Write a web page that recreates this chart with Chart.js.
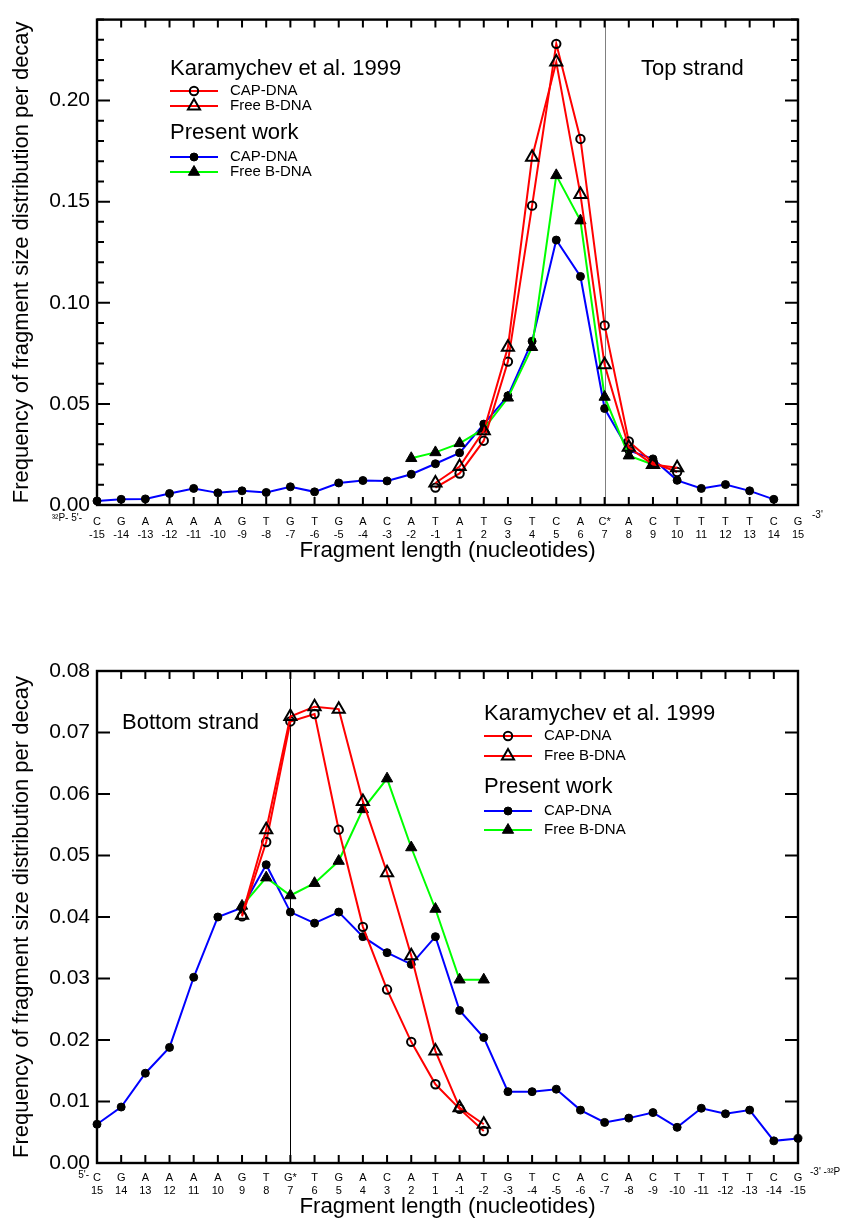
<!DOCTYPE html>
<html>
<head>
<meta charset="utf-8">
<script src="https://cdn.jsdelivr.net/npm/chart.js@4.4.1/dist/chart.umd.min.js"></script>
<style>
  body { margin:0; background:#fff; width:841px; height:1222px; position:relative; overflow:hidden; }
  canvas { position:absolute; left:0; }
  #topChart { top:0; }
  #botChart { top:630px; }
</style>
</head>
<body>
<canvas id="topChart" width="841" height="580"></canvas>
<canvas id="botChart" width="841" height="592"></canvas>
<script>
// ---------- data ----------
const topBases = ['C','G','A','A','A','A','G','T','G','T','G','A','C','A','T',
                  'A','T','G','T','C','A','C*','A','C','T','T','T','T','C','G'];
const topNums  = ['-15','-14','-13','-12','-11','-10','-9','-8','-7','-6','-5','-4','-3','-2','-1',
                  '1','2','3','4','5','6','7','8','9','10','11','12','13','14','15'];
const botBases = ['C','G','A','A','A','A','G','T','G*','T','G','A','C','A','T',
                  'A','T','G','T','C','A','C','A','C','T','T','T','T','C','G'];
const botNums  = ['15','14','13','12','11','10','9','8','7','6','5','4','3','2','1',
                  '-1','-2','-3','-4','-5','-6','-7','-8','-9','-10','-11','-12','-13','-14','-15'];

const topYTicks = [0, 0.05, 0.10, 0.15, 0.20];
const botYTicks = [0, 0.01, 0.02, 0.03, 0.04, 0.05, 0.06, 0.07, 0.08];

// top strand
const topPresentCap  = [0.002,0.0028,0.003,0.0057,0.0082,0.006,0.007,0.0062,0.009,0.0065,0.0109,0.0121,0.0119,0.0152,0.0204,
                        0.0258,0.040,0.054,0.081,0.131,0.113,0.0477,0.027,0.0228,0.0122,0.0082,0.0101,0.007,0.0028,null];
const topPresentFree = [null,null,null,null,null,null,null,null,null,null,null,null,null,0.0231,0.026,
                        0.0305,0.0376,0.053,0.078,0.163,0.1406,0.0534,0.0244,0.020,null,null,null,null,null,null];
const topKaraCap     = [null,null,null,null,null,null,null,null,null,null,null,null,null,null,0.0086,
                        0.0156,0.0318,0.0709,0.148,0.228,0.181,0.0888,0.0314,0.021,0.0163,null,null,null,null,null];
const topKaraFree    = [null,null,null,null,null,null,null,null,null,null,null,null,null,null,0.0109,
                        0.019,0.0367,0.078,0.172,0.219,0.1535,0.0693,0.0285,0.020,0.0184,null,null,null,null,null];

// bottom strand
const botPresentCap  = [0.0063,0.0091,0.0146,0.0188,0.0302,0.040,0.0415,0.0485,0.0408,0.039,0.0408,0.0368,0.0342,0.0323,0.0368,
                        0.0248,0.0204,0.0116,0.0116,0.012,0.0086,0.0066,0.0073,0.0082,0.0058,0.0089,0.008,0.0086,0.0036,0.004];
const botPresentFree = [null,null,null,null,null,null,0.0418,0.0464,0.0435,0.0455,0.0491,0.0575,0.0625,0.0513,0.0413,
                        0.0298,0.0298,null,null,null,null,null,null,null,null,null,null,null,null,null];
const botKaraCap     = [null,null,null,null,null,null,0.0401,0.0522,0.0718,0.073,0.0542,0.0384,0.0282,0.0197,0.0128,
                        0.0088,0.0052,null,null,null,null,null,null,null,null,null,null,null,null,null];
const botKaraFree    = [null,null,null,null,null,null,0.0403,0.0542,0.0726,0.0742,0.0738,0.0588,0.0472,0.0337,0.0182,
                        0.009,0.0063,null,null,null,null,null,null,null,null,null,null,null,null,null];

// ---------- styles ----------
const FONT = '"Liberation Sans", Arial, Helvetica, sans-serif';
Chart.defaults.font.family = FONT;
Chart.defaults.color = '#000';

const RED = '#ff0000', BLUE = '#0000ff', GREEN = '#00ff00';

const markers = {
    openCircle:   { style:'circle',   r:4.2, fill:false },
    openTriangle: { style:'triangle', r:7,   fill:false },
    dot:          { style:'circle',   r:4,   fill:true  },
    solidTriangle:{ style:'triangle', r:6.5, fill:true  }
};

function series(data, color, m) {
    return {
        data: data,
        borderColor: color,
        borderWidth: 2,
        tension: 0,
        clip: false,
        pointStyle: m.style,
        pointRadius: m.r,
        pointBorderColor: '#000',
        pointBorderWidth: m.fill ? 1 : 2,
        pointBackgroundColor: m.fill ? '#000' : 'rgba(0,0,0,0)'
    };
}

function drawMarker(ctx, m, x, y) {
    ctx.beginPath();
    if (m.style === 'circle') {
        ctx.arc(x, y, m.r, 0, Math.PI * 2);
    } else {
        for (let k = 0; k < 3; k++) {
            const a = k * 2 * Math.PI / 3;
            const px = x + Math.sin(a) * m.r, py = y - Math.cos(a) * m.r;
            k === 0 ? ctx.moveTo(px, py) : ctx.lineTo(px, py);
        }
        ctx.closePath();
    }
    ctx.lineWidth = m.fill ? 1 : 2;
    ctx.strokeStyle = '#000';
    if (m.fill) { ctx.fillStyle = '#000'; ctx.fill(); }
    ctx.stroke();
}

// frame, inward ticks, reference line, legend and notes
const boxPlugin = {
    id: 'box',
    beforeDatasetsDraw(chart, args, o) {
        const {ctx, chartArea: a, scales: {x}} = chart;
        const px = Math.round(x.getPixelForValue(o.markIndex)) + 0.5;
        ctx.save();
        ctx.strokeStyle = o.markColor;
        ctx.lineWidth = 1;
        ctx.beginPath();
        ctx.moveTo(px, a.top);
        ctx.lineTo(px, a.bottom);
        ctx.stroke();
        ctx.restore();
    },
    afterDraw(chart, args, o) {
        const {ctx, chartArea: a, scales: {x, y}} = chart;
        ctx.save();
        ctx.strokeStyle = '#000';
        ctx.lineWidth = 2;
        ctx.beginPath();
        for (let i = 0; i < x.ticks.length; i++) {
            const px = x.getPixelForTick(i);
            ctx.moveTo(px, a.bottom); ctx.lineTo(px, a.bottom - 8);
            ctx.moveTo(px, a.top);    ctx.lineTo(px, a.top + 8);
        }
        const n = Math.round((y.max - y.min) / o.minor);
        for (let i = 0; i <= n; i++) {
            const py = y.getPixelForValue(y.min + i * o.minor);
            const len = (i % o.every === 0) ? 13 : 7;
            ctx.moveTo(a.left, py);  ctx.lineTo(a.left + len, py);
            ctx.moveTo(a.right, py); ctx.lineTo(a.right - len, py);
        }
        ctx.stroke();
        ctx.lineWidth = 2.4;
        ctx.strokeRect(a.left, a.top, a.right - a.left, a.bottom - a.top);

        // notes
        ctx.fillStyle = '#000';
        ctx.textBaseline = 'middle';
        o.notes.forEach(t => {
            ctx.font = t.size + 'px ' + FONT;
            ctx.textAlign = t.align || 'left';
            ctx.fillText(t.text, t.x, t.y);
        });

        // legend
        const L = o.legend;
        ctx.textAlign = 'left';
        L.items.forEach(it => {
            if (it.header) {
                ctx.font = '22px ' + FONT;
                ctx.fillStyle = '#000';
                ctx.fillText(it.header, L.x0, it.y);
                return;
            }
            ctx.strokeStyle = it.color;
            ctx.lineWidth = 2;
            ctx.beginPath();
            ctx.moveTo(L.x0, it.y);
            ctx.lineTo(L.x1, it.y);
            ctx.stroke();
            drawMarker(ctx, it.marker, (L.x0 + L.x1) / 2, it.y);
            ctx.font = '15px ' + FONT;
            ctx.fillStyle = '#000';
            ctx.fillText(it.label, L.tx, it.y);
        });
        ctx.restore();
    }
};

function makeChart(id, cfg) {
    return new Chart(document.getElementById(id), {
        type: 'line',
        data: {
            labels: cfg.bases.map((b, i) => [b, cfg.nums[i]]),
            datasets: [
                series(cfg.karaFree,    RED,   markers.openTriangle),
                series(cfg.karaCap,     RED,   markers.openCircle),
                series(cfg.presentFree, GREEN, markers.solidTriangle),
                series(cfg.presentCap,  BLUE,  markers.dot)
            ]
        },
        options: {
            responsive: false,
            animation: false,
            events: [],
            layout: { autoPadding: false, padding: { left: 0, right: 43, top: cfg.top, bottom: 0 } },
            scales: {
                x: {
                    type: 'category',
                    offset: false,
                    grid: { display: false, drawTicks: false },
                    border: { display: false },
                    ticks: { autoSkip: false, maxRotation: 0, padding: cfg.xPad, font: { size: 11 }, color: '#000' },
                    title: {
                        display: true, text: 'Fragment length (nucleotides)',
                        font: { size: 22.3 }, color: '#000', padding: { top: 0, bottom: cfg.titlePad }
                    },
                    afterFit: s => { s.height = cfg.xHeight; s.paddingLeft = 0; s.paddingRight = 0; }
                },
                y: {
                    min: 0,
                    max: cfg.yMax,
                    grid: { display: false, drawTicks: false },
                    border: { display: false },
                    afterBuildTicks: s => { s.ticks = cfg.yTicks.map(v => ({ value: v })); },
                    ticks: { autoSkip: false, padding: 7, font: { size: 21 }, color: '#000',
                             callback: v => Number(v).toFixed(2) },
                    title: {
                        display: true, text: 'Frequency of fragment size distribution per decay',
                        font: { size: 22 }, color: '#000', padding: { top: 9, bottom: 0 }
                    },
                    afterFit: s => { s.width = 97; }
                }
            },
            plugins: {
                legend: { display: false },
                tooltip: { enabled: false },
                box: cfg.box
            }
        },
        plugins: [boxPlugin]
    });
}

makeChart('topChart', {
    bases: topBases, nums: topNums, yTicks: topYTicks, yMax: 0.24,
    presentCap: topPresentCap, presentFree: topPresentFree, karaCap: topKaraCap, karaFree: topKaraFree,
    top: 14, xHeight: 75, xPad: 10.4, titlePad: 15.3,
    box: {
        markIndex: 21, markColor: '#808080', minor: 0.01, every: 5,
        notes: [
            { text: 'Top strand', x: 641, y: 69, size: 22 },
            { text: '\u00b3\u00b2P- 5\'-', x: 82, y: 518, size: 10, align: 'right' },
            { text: '-3\'', x: 812, y: 515, size: 10 }
        ],
        legend: {
            x0: 170, x1: 218, tx: 230,
            items: [
                { header: 'Karamychev et al. 1999', y: 69 },
                { label: 'CAP-DNA',    y: 91,  color: RED,   marker: markers.openCircle },
                { label: 'Free B-DNA', y: 106, color: RED,   marker: markers.openTriangle },
                { header: 'Present work', y: 133 },
                { label: 'CAP-DNA',    y: 157, color: BLUE,  marker: markers.dot },
                { label: 'Free B-DNA', y: 172, color: GREEN, marker: markers.solidTriangle }
            ]
        }
    }
});

makeChart('botChart', {
    bases: botBases, nums: botNums, yTicks: botYTicks, yMax: 0.08,
    presentCap: botPresentCap, presentFree: botPresentFree, karaCap: botKaraCap, karaFree: botKaraFree,
    top: 41, xHeight: 59, xPad: 8.4, titlePad: 1.8,
    box: {
        markIndex: 8, markColor: '#000', minor: 0.01, every: 1,
        notes: [
            { text: 'Bottom strand', x: 122, y: 93, size: 22 },
            { text: '5\'-', x: 89, y: 545, size: 10, align: 'right' },
            { text: '-3\' -\u00b3\u00b2P', x: 810, y: 542, size: 10 }
        ],
        legend: {
            x0: 484, x1: 532, tx: 544,
            items: [
                { header: 'Karamychev et al. 1999', y: 84 },
                { label: 'CAP-DNA',    y: 106, color: RED,   marker: markers.openCircle },
                { label: 'Free B-DNA', y: 126, color: RED,   marker: markers.openTriangle },
                { header: 'Present work', y: 157 },
                { label: 'CAP-DNA',    y: 181, color: BLUE,  marker: markers.dot },
                { label: 'Free B-DNA', y: 200, color: GREEN, marker: markers.solidTriangle }
            ]
        }
    }
});
</script>
</body>
</html>
